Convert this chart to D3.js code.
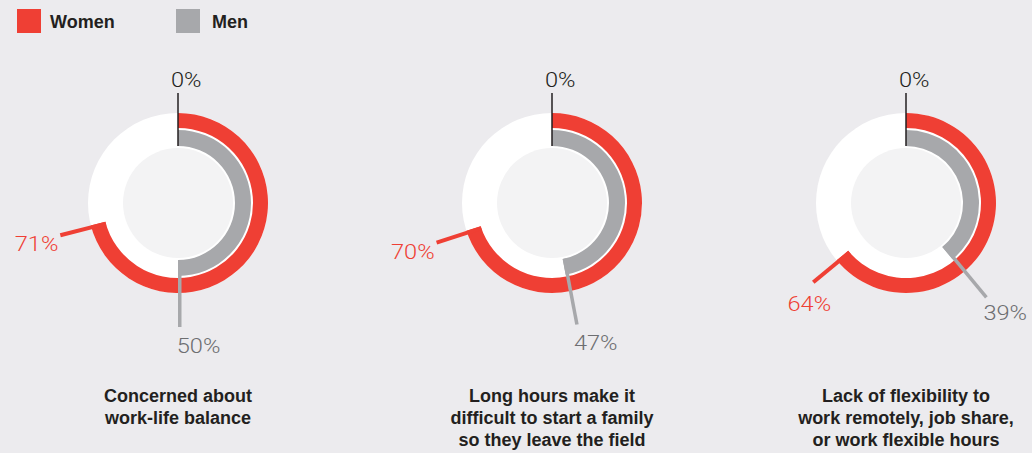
<!DOCTYPE html>
<html><head><meta charset="utf-8">
<script src="https://cdn.jsdelivr.net/npm/d3@7"></script>
<style>
html,body{margin:0;padding:0;background:#ecebee;}
svg{display:block;}
</style></head>
<body>
<svg id="chart" width="1032" height="453"></svg>
<script>
// ---- data ----
const categories = [
  ["Concerned about", "work-life balance"],
  ["Long hours make it", "difficult to start a family", "so they leave the field"],
  ["Lack of flexibility to", "work remotely, job share,", "or work flexible hours"]
];
const seriesNames = ["Women", "Men"];
const womenValues = [71, 70, 64];
const menValues = [50, 47, 39];
const zeroLabel = "0%";

// ---- styles ----
const RED = "#ef3f34", GRAY = "#a7a8ab", BG = "#ecebee", INNER = "#f3f3f4";
const DARK = "#231f20", GRAYTXT = "#6d6e71";

const svg = d3.select("#chart");
svg.append("rect").attr("width", 1032).attr("height", 453).attr("fill", BG);

const cx = d3.scaleOrdinal().domain(d3.range(categories.length)).range([178, 552, 906]);
const cy = 203;
const angle = d3.scaleLinear().domain([0, 100]).range([0, 2 * Math.PI]);
const R = {outer: 90, redIn: 75, grayOut: 73, grayIn: 57, inner: 55, womenLine: 122, menLine: 124, zeroTop: 110};

// ---- legend ----
const colors = d3.scaleOrdinal().domain(seriesNames).range([RED, GRAY]);
const lx = d3.scaleOrdinal().domain(seriesNames).range([17, 176]);
const ltx = d3.scaleOrdinal().domain(seriesNames).range([33, 36]);
const leg = svg.append("g").selectAll("g").data(seriesNames).join("g")
  .attr("transform", d => `translate(${lx(d)},9)`);
leg.append("rect").attr("width", 24).attr("height", 24).attr("fill", d => colors(d));
leg.append("text").attr("x", d => ltx(d)).attr("y", 18.5)
  .attr("font-family", "Liberation Sans, Arial, sans-serif").attr("font-weight", "bold")
  .attr("font-size", 18).attr("fill", DARK).text(d => d);

const arc = d3.arc();
const pt = (a, r) => [Math.sin(a) * r, -Math.cos(a) * r];

function pctText(g, x, y, anchor, color, txt) {
  g.append("g").attr("transform", `translate(${x},${y}) scale(1.18,1)`)
    .append("text").attr("text-anchor", anchor)
    .attr("font-family", "Roboto, sans-serif").attr("font-weight", 300)
    .attr("font-size", 20).attr("fill", color).text(txt);
}

const charts = svg.append("g").selectAll("g").data(categories).join("g")
  .attr("transform", (d, i) => `translate(${cx(i)},${cy})`);

charts.each(function(cat, i) {
  const g = d3.select(this);
  g.append("circle").attr("r", R.outer).attr("fill", "#ffffff");
  g.append("circle").attr("r", R.inner).attr("fill", INNER);
  const aw = angle(womenValues[i]), am = angle(menValues[i]);
  g.append("path").attr("fill", RED)
    .attr("d", arc({innerRadius: R.redIn, outerRadius: R.outer, startAngle: 0, endAngle: aw}));
  g.append("path").attr("fill", GRAY)
    .attr("d", arc({innerRadius: R.grayIn, outerRadius: R.grayOut, startAngle: 0, endAngle: am}));

  // zero line
  g.append("line").attr("x1", 0).attr("x2", 0).attr("y1", -R.grayIn).attr("y2", -R.zeroTop)
    .attr("stroke", DARK).attr("stroke-width", 1.5);
  pctText(g, -7, -R.zeroTop - 6.5, "start", DARK, zeroLabel);

  // leader lines
  function leader(a, r0, r1, color, w) {
    const t = [Math.cos(a), Math.sin(a)];
    const off = [-t[0] * w / 2, -t[1] * w / 2];
    const p0 = pt(a, r0), p1 = pt(a, r1);
    g.append("line")
      .attr("x1", p0[0] + off[0]).attr("y1", p0[1] + off[1])
      .attr("x2", p1[0] + off[0]).attr("y2", p1[1] + off[1])
      .attr("stroke", color).attr("stroke-width", w);
    return [p1[0] + off[0], p1[1] + off[1]];
  }
  const ew = leader(aw, R.redIn, R.womenLine, RED, 4);
  const em = leader(am, R.grayIn, R.menLine, GRAY, 3.5);

  const side = Math.abs(Math.sin(aw)) > 0.9;
  pctText(g, ew[0] + (side ? -2 : -4), ew[1] + (side ? 16 : 29), side ? "end" : "middle", RED, womenValues[i] + "%");
  pctText(g, em[0] - 3, em[1] + 12 + 14 * (-Math.cos(am)), "start", GRAYTXT, menValues[i] + "%");

  // title
  g.append("text").attr("text-anchor", "middle")
    .attr("font-family", "Liberation Sans, Arial, sans-serif").attr("font-weight", "bold")
    .attr("font-size", 18).attr("fill", DARK)
    .selectAll("tspan").data(cat).join("tspan")
    .attr("x", 0).attr("y", (d, k) => 198.7 + k * 22).text(d => d);
});
</script>
</body></html>
